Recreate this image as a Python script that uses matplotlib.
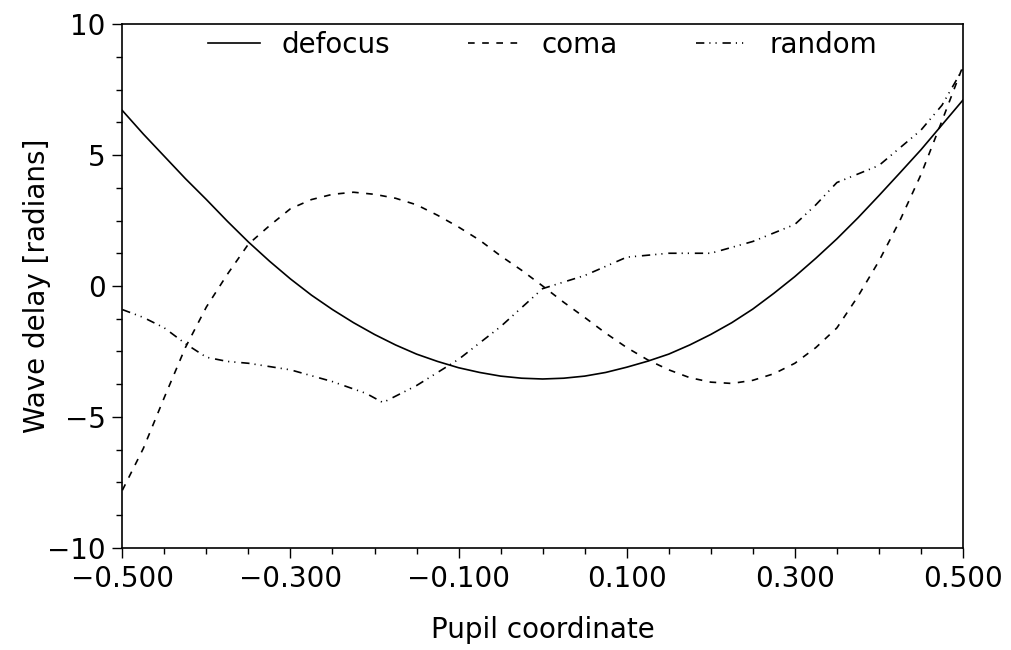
import matplotlib
matplotlib.use('Agg')
import matplotlib.pyplot as plt
from matplotlib.ticker import MultipleLocator

# values
x = [-0.500, -0.475, -0.450, -0.425, -0.400, -0.375, -0.350, -0.325, -0.300, -0.275,
     -0.250, -0.225, -0.200, -0.175, -0.150, -0.125, -0.100, -0.075, -0.050, -0.025,
     0.000, 0.025, 0.050, 0.075, 0.100, 0.125, 0.150, 0.175, 0.200, 0.225,
     0.250, 0.275, 0.300, 0.325, 0.350, 0.375, 0.400, 0.425, 0.450, 0.475, 0.500]
defocus = [6.7, 5.8, 4.95, 4.1, 3.3, 2.47, 1.68, 0.95, 0.27, -0.35,
           -0.9, -1.4, -1.85, -2.25, -2.6, -2.88, -3.12, -3.3, -3.44, -3.52,
           -3.55, -3.52, -3.44, -3.3, -3.1, -2.87, -2.6, -2.25, -1.85, -1.4,
           -0.88, -0.28, 0.36, 1.06, 1.8, 2.6, 3.45, 4.32, 5.2, 6.15, 7.1]

x_coma = [-0.500, -0.475, -0.450, -0.425, -0.400, -0.375, -0.350, -0.325, -0.300, -0.275,
          -0.250, -0.225, -0.200, -0.175, -0.150, -0.125, -0.100, -0.075, -0.050, -0.025,
          0.000, 0.025, 0.050, 0.075, 0.100, 0.125, 0.150, 0.175, 0.200, 0.225,
          0.250, 0.275, 0.300, 0.325, 0.350, 0.375, 0.400, 0.425, 0.450, 0.475, 0.500]
coma = [-7.8, -6.2, -4.25, -2.35, -0.8, 0.45, 1.6, 2.3, 2.95, 3.3,
        3.5, 3.58, 3.5, 3.35, 3.1, 2.7, 2.25, 1.75, 1.15, 0.6,
        0.0, -0.62, -1.2, -1.8, -2.35, -2.82, -3.2, -3.5, -3.67, -3.72,
        -3.6, -3.35, -2.95, -2.35, -1.6, -0.4, 0.95, 2.5, 4.25, 6.3, 8.4]

x_random = [-0.500, -0.475, -0.450, -0.425, -0.400, -0.375, -0.350, -0.300, -0.250, -0.210,
            -0.190, -0.150, -0.100, -0.050, 0.000, 0.050, 0.100, 0.150, 0.200, 0.250,
            0.300, 0.325, 0.350, 0.400, 0.450, 0.475, 0.500]
random_ = [-0.9, -1.2, -1.6, -2.2, -2.72, -2.88, -2.95, -3.2, -3.65, -4.1,
           -4.45, -3.8, -2.8, -1.55, -0.1, 0.4, 1.1, 1.25, 1.25, 1.7,
           2.35, 3.1, 3.95, 4.6, 5.95, 6.9, 8.3]

xticks = [-0.5, -0.3, -0.1, 0.1, 0.3, 0.5]
xticklabels = ['\u22120.500', '\u22120.300', '\u22120.100', '0.100', '0.300', '0.500']
yticks = [-10, -5, 0, 5, 10]
yticklabels = ['\u221210', '\u22125', '0', '5', '10']

plt.rcParams['font.family'] = ['DejaVu Sans']
fs = 20

fig = plt.figure(figsize=(10.11, 6.5), dpi=100)
ax = fig.add_axes([0.121, 0.157, 0.8315, 0.806])

lw = 1.2
ax.plot(x, defocus, color='black', lw=lw, label='defocus')
ax.plot(x_coma, coma, color='black', lw=lw, linestyle=(0, (4, 4.5)), label='coma')
ax.plot(x_random, random_, color='black', lw=lw,
        linestyle=(0, (5, 3, 0.7, 3, 0.7, 3.5)), label='random')

ax.set_xlim(-0.5, 0.5)
ax.set_ylim(-10, 10)
ax.set_xticks(xticks)
ax.set_xticklabels(xticklabels)
ax.set_yticks(yticks)
ax.set_yticklabels(yticklabels)
ax.xaxis.set_minor_locator(MultipleLocator(0.05))
ax.yaxis.set_minor_locator(MultipleLocator(1.25))
ax.tick_params(axis='both', which='major', direction='out', length=7, width=1,
               labelsize=fs, pad=5)
ax.tick_params(axis='both', which='minor', direction='out', length=4, width=1)

for s in ax.spines.values():
    s.set_linewidth(1.2)

ax.set_xlabel('Pupil coordinate', fontsize=fs, labelpad=17)
ax.set_ylabel('Wave delay [radians]', fontsize=fs, labelpad=-3)

ax.legend(loc='upper center', ncol=3, frameon=False, fontsize=fs,
          handlelength=1.85, handletextpad=0.8, columnspacing=2.8,
          bbox_to_anchor=(0.5, 1.035))

plt.savefig('out.png', dpi=100)
